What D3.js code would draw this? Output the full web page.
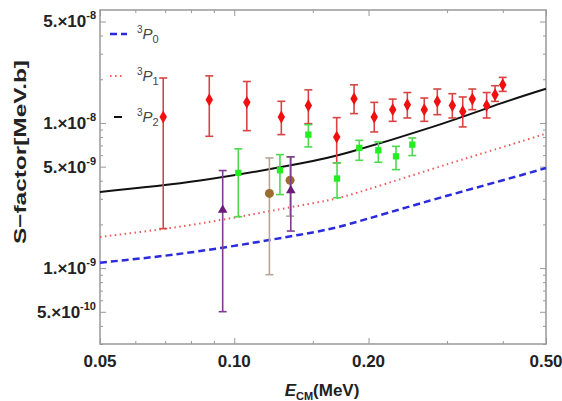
<!DOCTYPE html>
<html>
<head>
<meta charset="utf-8">
<script src="https://cdn.jsdelivr.net/npm/d3@7"></script>
<style>
  body { margin: 0; background: #fff; }
  text { font-family: "Liberation Sans", Arial, sans-serif; }
</style>
</head>
<body>
<div class="chart"></div>
<script>
// theory curves
var curveE = [0.05, 0.0838, 0.1405, 0.1818, 0.275, 0.3945, 0.5];
var s3P0 = [1.09e-9, 1.31e-9, 1.70e-9, 2.02e-9, 2.92e-9, 3.98e-9, 4.89e-9];
var s3P1 = [1.64e-9, 2.03e-9, 2.70e-9, 3.20e-9, 4.77e-9, 6.73e-9, 8.44e-9];
var s3P2 = [3.35e-9, 4.01e-9, 5.25e-9, 6.30e-9, 9.28e-9, 1.358e-8, 1.72e-8];

// experimental points
var redE  = [0.0693, 0.0879, 0.1067, 0.1275, 0.1466, 0.1697, 0.1856, 0.206, 0.2266, 0.2444, 0.2667, 0.2853, 0.3083, 0.3253, 0.3418, 0.368, 0.3844, 0.3999];
var redS  = [1.10e-8, 1.446e-8, 1.386e-8, 1.10e-8, 1.32e-8, 7.99e-9, 1.47e-8, 1.10e-8, 1.235e-8, 1.336e-8, 1.235e-8, 1.408e-8, 1.32e-8, 1.20e-8, 1.46e-8, 1.32e-8, 1.565e-8, 1.834e-8];
var redHi = [2.04e-8, 2.11e-8, 1.93e-8, 1.41e-8, 1.69e-8, 1.088e-8, 1.83e-8, 1.386e-8, 1.46e-8, 1.62e-8, 1.485e-8, 1.713e-8, 1.59e-8, 1.51e-8, 1.713e-8, 1.62e-8, 1.805e-8, 2.06e-8];
var redLo = [1.87e-9, 8.09e-9, 8.85e-9, 8.31e-9, 9.89e-9, 5.31e-9, 1.16e-8, 8.67e-9, 1.026e-8, 1.082e-8, 1.026e-8, 1.14e-8, 1.082e-8, 9.39e-9, 1.235e-8, 1.082e-8, 1.408e-8, 1.65e-8];

var greenE  = [0.1021, 0.1266, 0.1466, 0.170, 0.1907, 0.2104, 0.2305, 0.2507];
var greenS  = [4.53e-9, 4.72e-9, 8.31e-9, 4.14e-9, 6.73e-9, 6.48e-9, 5.89e-9, 7.09e-9];
var greenHi = [6.63e-9, 6.05e-9, 9.73e-9, 5.31e-9, 7.59e-9, 7.40e-9, 6.90e-9, 7.88e-9];
var greenLo = [2.26e-9, 3.21e-9, 6.84e-9, 3.05e-9, 5.53e-9, 5.36e-9, 4.77e-9, 5.96e-9];

var brownE  = [0.1199, 0.1334];
var brownS  = [3.27e-9, 4.03e-9];
var brownHi = [5.74e-9, 5.84e-9];
var brownLo = [9.01e-10, 2.28e-9];

var purpleE  = [0.0942, 0.1339];
var purpleS  = [2.51e-9, 3.42e-9];
var purpleHi = [4.70e-9, 5.84e-9];
var purpleLo = [5.01e-10, 1.80e-9];

// ticks
var xTicks = [0.05, 0.06, 0.07, 0.08, 0.09, 0.1, 0.15, 0.2, 0.3, 0.4, 0.5];
var xMajor = [0.05, 0.1, 0.2, 0.5];
var xLabels = ["0.05", "0.10", "0.20", "0.50"];
var yMajor = [5e-10, 1e-9, 5e-9, 1e-8, 5e-8];
var yMant = ["5.", "1.", "5.", "1.", "5."];
var yExp = ["-10", "-9", "-9", "-8", "-8"];

var W = 562, H = 401;
var pLeft = 100, pRight = 546, pTop = 10, pBottom = 344;

var svg = d3.select(".chart")
    .append("svg")
    .attr("width", W)
    .attr("height", H);

var x = d3.scaleLog().domain([0.05, 0.5]).range([pLeft, pRight]);
var y = d3.scaleLog().domain([3e-10, 6e-8]).range([pBottom, pTop]);

// all minor y ticks k*10^n inside the domain
var yTicks = [];
[-10, -9, -8].forEach(function(n) {
    for (var k = 1; k <= 9; k++) {
        var v = k * Math.pow(10, n);
        if (v >= 3e-10 && v <= 6e-8) yTicks.push(v);
    }
});
var yMinor = yTicks.filter(function(v) {
    return !yMajor.some(function(m) { return Math.abs(m - v) / m < 1e-6; });
});
var xMinor = xTicks.filter(function(v) { return xMajor.indexOf(v) < 0; });

var axisColor = "#999";
function drawAxis(gen, vals, size, tx, ty) {
    var g = svg.append("g")
        .attr("transform", "translate(" + tx + "," + ty + ")")
        .call(gen.tickValues(vals).tickSize(-size).tickFormat(""));
    g.select(".domain").remove();
    g.selectAll("line").attr("stroke", axisColor).attr("stroke-width", 1);
}
drawAxis(d3.axisBottom(x), xMajor, 6, 0, pBottom);
drawAxis(d3.axisBottom(x), xMinor, 3, 0, pBottom);
drawAxis(d3.axisTop(x), xMajor, 6, 0, pTop);
drawAxis(d3.axisTop(x), xMinor, 3, 0, pTop);
drawAxis(d3.axisLeft(y), yMajor, 6, pLeft, 0);
drawAxis(d3.axisLeft(y), yMinor, 3, pLeft, 0);
drawAxis(d3.axisRight(y), yMajor, 6, pRight, 0);
drawAxis(d3.axisRight(y), yMinor, 3, pRight, 0);

svg.append("rect")
    .attr("x", pLeft).attr("y", pTop)
    .attr("width", pRight - pLeft).attr("height", pBottom - pTop)
    .attr("fill", "none")
    .attr("stroke", axisColor)
    .attr("stroke-width", 1.5);

// tick labels
svg.selectAll(".xlab")
    .data(xMajor)
    .enter()
    .append("text")
    .attr("x", function(d) { return x(d); })
    .attr("y", pBottom + 23)
    .attr("text-anchor", "middle")
    .attr("font-size", "17px")
    .attr("font-weight", "bold")
    .attr("fill", "#222")
    .text(function(d, i) { return xLabels[i]; });

svg.selectAll(".ylab")
    .data(yMajor)
    .enter()
    .append("text")
    .attr("x", pLeft - 4)
    .attr("y", function(d) { return y(d) + 6; })
    .attr("text-anchor", "end")
    .attr("font-size", "17px")
    .attr("font-weight", "bold")
    .attr("fill", "#222")
    .each(function(d, i) {
        var t = d3.select(this);
        t.append("tspan").text(yMant[i] + "\u00d710");
        t.append("tspan").attr("dy", -8).attr("font-size", "11px").text(yExp[i]);
    });

// axis titles
var xt = svg.append("text")
    .attr("x", 322)
    .attr("y", 396)
    .attr("text-anchor", "middle")
    .attr("font-size", "17px")
    .attr("font-weight", "bold")
    .attr("fill", "#222");
xt.append("tspan").attr("font-style", "italic").text("E");
xt.append("tspan").attr("dy", 4).attr("font-size", "11px").text("CM");
xt.append("tspan").attr("dy", -4).text("(MeV)");

svg.append("text")
    .attr("transform", "translate(26,152) rotate(-90)")
    .attr("text-anchor", "middle")
    .attr("font-size", "17px")
    .attr("font-weight", "bold")
    .attr("fill", "#222")
    .attr("textLength", 184)
    .attr("lengthAdjust", "spacingAndGlyphs")
    .text("S\u2212factor[MeV.b]");

// theory curves
var line = d3.line()
    .x(function(d) { return x(d[0]); })
    .y(function(d) { return y(d[1]); })
    .curve(d3.curveNatural);

var curves = [
    {vals: s3P0, color: "#2b2bdc", width: 2.5, dash: "7,4"},
    {vals: s3P1, color: "#ec5a5a", width: 2, dash: "1.5,3.5"},
    {vals: s3P2, color: "#111", width: 2, dash: null}
];
curves.forEach(function(c) {
    svg.append("path")
        .datum(curveE.map(function(e, i) { return [e, c.vals[i]]; }))
        .attr("fill", "none")
        .attr("stroke", c.color)
        .attr("stroke-width", c.width)
        .attr("stroke-dasharray", c.dash)
        .attr("d", line);
});

// error bars + markers
function series(E, S, hi, lo, barColor, shape, fill, size) {
    var pts = E.map(function(e, i) { return {e: e, s: S[i], hi: hi[i], lo: lo[i]}; });
    var g = svg.append("g");
    g.selectAll(".bar").data(pts).enter().append("line")
        .attr("x1", function(d) { return x(d.e); })
        .attr("x2", function(d) { return x(d.e); })
        .attr("y1", function(d) { return y(d.hi); })
        .attr("y2", function(d) { return y(d.lo); })
        .attr("stroke", barColor).attr("stroke-width", 1.6);
    ["hi", "lo"].forEach(function(k) {
        g.selectAll(".cap" + k).data(pts).enter().append("line")
            .attr("x1", function(d) { return x(d.e) - 4; })
            .attr("x2", function(d) { return x(d.e) + 4; })
            .attr("y1", function(d) { return y(d[k]); })
            .attr("y2", function(d) { return y(d[k]); })
            .attr("stroke", barColor).attr("stroke-width", 1.6);
    });
    g.selectAll(".pt").data(pts).enter().append("path")
        .attr("transform", function(d) { return "translate(" + x(d.e) + "," + y(d.s) + ")"; })
        .attr("d", d3.symbol().type(shape).size(size))
        .attr("fill", fill);
}
series(redE, redS, redHi, redLo, "#d84444", d3.symbolDiamond, "#f01010", 48);
series(greenE, greenS, greenHi, greenLo, "#4ed84e", d3.symbolSquare, "#22ee22", 40);
series(brownE, brownS, brownHi, brownLo, "#b8a593", d3.symbolCircle, "#9c6b30", 64);
series(purpleE, purpleS, purpleHi, purpleLo, "#7e3c8e", d3.symbolTriangle, "#6a1b7a", 40);

// legend
var legend = [
    {sub: "0", color: "#2b2bdc", width: 2.5, dash: "7,4", x1: 110, x2: 127, yy: 34},
    {sub: "1", color: "#ec5a5a", width: 2, dash: "1.5,3.5", x1: 110, x2: 123, yy: 76},
    {sub: "2", color: "#111", width: 2, dash: null, x1: 114, x2: 122, yy: 117}
];
legend.forEach(function(l) {
    svg.append("line")
        .attr("x1", l.x1).attr("x2", l.x2)
        .attr("y1", l.yy).attr("y2", l.yy)
        .attr("stroke", l.color)
        .attr("stroke-width", l.width)
        .attr("stroke-dasharray", l.dash);
    var t = svg.append("text")
        .attr("x", 137)
        .attr("y", l.yy + 5)
        .attr("font-size", "15px")
        .attr("fill", "#444");
    t.append("tspan").attr("dy", -6).attr("font-size", "10px").text("3");
    t.append("tspan").attr("dy", 6).attr("font-style", "italic").text("P");
    t.append("tspan").attr("dy", 4).attr("font-size", "11px").text(l.sub);
});
</script>
</body>
</html>
